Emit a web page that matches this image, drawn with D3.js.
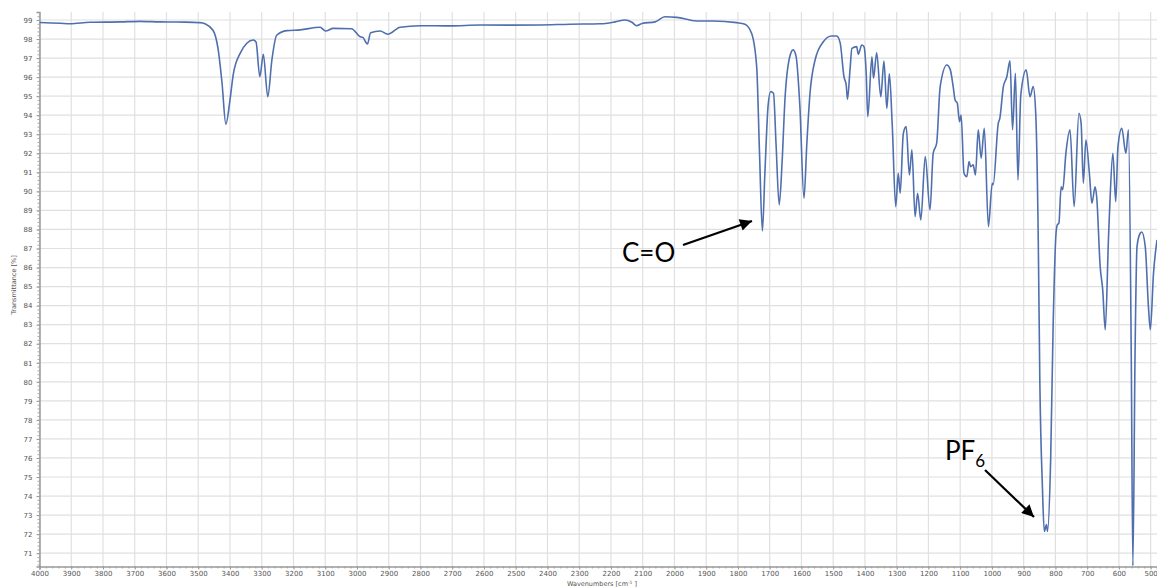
<!DOCTYPE html>
<html>
<head>
<meta charset="utf-8">
<script src="https://cdn.jsdelivr.net/npm/d3@7"></script>
<style>
  body { margin: 0; background: #fff; }
  svg { display: block; }
  .tick text { font-family: "DejaVu Sans", sans-serif; font-size: 7px; fill: #555; }
  .note { font-family: Lato, "Open Sans", sans-serif; fill: #000; }
</style>
</head>
<body>
<svg id="chart" width="1157" height="587"></svg>
<script>
// --- datos del espectro IR (número de onda cm-1, transmitancia %) ---
const wavenumbers = [
  4000, 3935, 3904, 3841, 3746, 3683, 3620, 3542, 3494, 3479, 3453, 3437, 3425, 3413, 3400, 3390,
  3368, 3347, 3327, 3318, 3306, 3295, 3281, 3268, 3253, 3221, 3179, 3116, 3099, 3075, 3017, 2990,
  2982, 2967, 2957, 2927, 2903, 2864, 2801, 2707, 2612, 2518, 2423, 2329, 2234, 2187, 2156, 2134,
  2119, 2102, 2061, 2030, 1993, 1930, 1878, 1804, 1778, 1757, 1741, 1732, 1723, 1715, 1705, 1697,
  1688, 1680, 1670, 1661, 1652, 1636, 1626, 1617, 1605, 1592, 1583, 1573, 1557, 1531, 1505, 1489,
  1478, 1466, 1459, 1455, 1447, 1441, 1426, 1421, 1410, 1403, 1396, 1391, 1378, 1373, 1363, 1350,
  1340, 1331, 1323, 1314, 1303, 1295, 1289, 1279, 1270, 1260, 1252, 1242, 1234, 1224, 1210, 1195,
  1185, 1174, 1163, 1142, 1131, 1122, 1116, 1109, 1102, 1097, 1088, 1079, 1072, 1067, 1059, 1052,
  1043, 1034, 1024, 1011, 999, 996, 980, 975, 964, 953, 943, 935, 926, 918, 909, 892,
  880, 870, 862, 854, 849, 841, 835, 828, 825, 815, 807, 798, 794, 789, 782, 777,
  767, 754, 741, 726, 719, 712, 704, 693, 685, 675, 670, 659, 651, 643, 633, 628,
  619, 610, 603, 591, 578, 570, 561, 556, 549, 543, 533, 528, 517, 507, 501, 491, 480
];
const transmittance = [
  98.87, 98.83, 98.8, 98.88, 98.9, 98.93, 98.9, 98.89, 98.86, 98.8, 98.45, 97.43, 95.68, 93.53, 94.8, 96.11,
  97.25, 97.78, 97.95, 97.85, 96.02, 97.2, 94.97, 96.9, 98.2, 98.44, 98.48, 98.62, 98.42, 98.56, 98.54, 98.12,
  98.09, 97.74, 98.33, 98.42, 98.25, 98.62, 98.7, 98.69, 98.74, 98.73, 98.74, 98.78, 98.8, 98.9, 99.0, 98.88,
  98.7, 98.82, 98.9, 99.17, 99.14, 98.95, 98.95, 98.86, 98.78, 98.3, 96.55, 92.0, 87.92, 91.0, 94.5, 95.24,
  95.15, 92.5, 89.29, 91.5, 94.8, 97.12, 97.43, 97.1, 94.5, 89.64, 92.5, 95.15, 96.9, 97.86, 98.16, 98.16,
  97.8, 96.02, 95.59, 94.84, 96.38, 97.51, 97.6, 97.2, 97.69, 97.6, 96.2, 93.92, 97.07, 95.94, 97.28, 94.97,
  96.85, 94.36, 96.17, 93.5, 89.2, 90.95, 89.9, 93.05, 93.4, 90.86, 92.18, 88.67, 89.9, 88.5, 91.83, 89.03,
  92.0, 92.53, 95.5, 96.64, 96.38, 95.5, 94.8, 94.63, 93.66, 94.01, 90.95, 90.77, 91.56, 91.3, 91.39, 90.86,
  93.23, 91.74, 93.31, 88.15, 90.43, 90.35, 93.57, 93.84, 95.5, 96.02, 96.86, 93.23, 96.2, 90.6, 95.06, 96.38,
  94.97, 95.5, 94.1, 87.45, 79.93, 74.5, 72.14, 72.5, 72.14, 75.9, 83.08, 87.8, 88.24, 88.33, 90.24, 90.08,
  92.0, 93.23, 89.2, 94.1, 93.57, 90.43, 92.7, 90.95, 89.38, 90.24, 89.72, 86.05, 84.83, 82.73, 87.45, 89.55,
  92.0, 89.46, 92.35, 93.31, 92.0, 93.23, 81.2, 70.34, 81.68, 87.1, 87.8, 87.87, 87.1, 83.95, 82.73, 85.7, 87.45
];
const xTicks = d3.range(4000, 499, -100);   // 4000 ... 500
const yTicks = d3.range(71, 100, 1);        // 71 ... 99
const annotations = [
  { label: "C=O", sub: "", tx: 622, ty: 262, from: [683, 245], to: [752, 221] },
  { label: "PF", sub: "6", tx: 945, ty: 460, from: [985, 470], to: [1034, 517] }
];

const spectrum = wavenumbers.map((w, i) => ({ w: w, t: transmittance[i] }));

// --- área del gráfico ---
const plotLeft = 39.5, plotRight = 1157, plotTop = 12, plotBottom = 566.5;
const svg = d3.select("#chart");

const x = d3.scaleLinear().domain([4000, 480]).range([plotLeft, plotRight]);
const y = d3.scaleLinear().domain([70.3, 99.42]).range([plotBottom, plotTop]);

const defs = svg.append("defs");
defs.append("clipPath").attr("id", "plot-clip")
  .append("rect").attr("x", plotLeft).attr("y", plotTop - 2)
  .attr("width", plotRight - plotLeft).attr("height", plotBottom - plotTop + 2);

defs.append("marker")
  .attr("id", "arrow").attr("viewBox", "0 0 10 10")
  .attr("refX", 10).attr("refY", 5)
  .attr("markerWidth", 15).attr("markerHeight", 12)
  .attr("markerUnits", "userSpaceOnUse")
  .attr("orient", "auto")
  .append("path").attr("d", "M0,0L10,5L0,10z").attr("fill", "#000");

// rejilla
const grid = svg.append("g").attr("stroke", "#e0e0e0").attr("stroke-width", 1.2);
grid.selectAll(".gx").data(xTicks).join("line")
  .attr("x1", d => x(d)).attr("x2", d => x(d))
  .attr("y1", plotTop).attr("y2", plotBottom);
grid.selectAll(".gy").data(yTicks).join("line")
  .attr("x1", plotLeft).attr("x2", plotRight)
  .attr("y1", d => y(d)).attr("y2", d => y(d));

// ejes: marcas menores y principales
const xMinor = d3.range(4000, 480, -20);
const yMinor = d3.range(70.4, 99.4, 0.2);

svg.append("g").attr("transform", `translate(0,${plotBottom})`)
  .call(d3.axisBottom(x).tickValues(xMinor).tickSize(2).tickFormat(""))
  .call(g => g.select(".domain").remove())
  .selectAll("line").attr("stroke", "#aaa");
svg.append("g").attr("transform", `translate(${plotLeft},0)`)
  .call(d3.axisLeft(y).tickValues(yMinor).tickSize(2).tickFormat(""))
  .call(g => g.select(".domain").remove())
  .selectAll("line").attr("stroke", "#aaa");

const xAxis = svg.append("g").attr("transform", `translate(0,${plotBottom})`)
  .call(d3.axisBottom(x).tickValues(xTicks).tickSize(3).tickPadding(2).tickFormat(d3.format("d")));
xAxis.select(".domain").attr("stroke", "#999").attr("stroke-width", 1.5);
xAxis.selectAll(".tick line").attr("stroke", "#999");

const yAxis = svg.append("g").attr("transform", `translate(${plotLeft},0)`)
  .call(d3.axisLeft(y).tickValues(yTicks).tickSize(3).tickPadding(4).tickFormat(d3.format("d")));
yAxis.select(".domain").attr("stroke", "#999").attr("stroke-width", 1.5);
yAxis.selectAll(".tick line").attr("stroke", "#999");

// títulos de ejes
svg.append("text")
  .attr("x", 602).attr("y", 586)
  .attr("text-anchor", "middle")
  .style("font-family", "DejaVu Sans, sans-serif").style("font-size", "6.5px").style("fill", "#555")
  .html('Wavenumbers [cm<tspan dy="-2.5" font-size="4.5px">-1</tspan><tspan dy="2.5"> ]</tspan>');
svg.append("text")
  .attr("transform", "translate(16,285) rotate(-90)")
  .attr("text-anchor", "middle")
  .style("font-family", "DejaVu Sans, sans-serif").style("font-size", "6.5px").style("fill", "#555")
  .text("Transmittance [%]");

// espectro
const line = d3.line()
  .x(d => x(d.w))
  .y(d => y(d.t))
  .curve(d3.curveMonotoneX);

svg.append("path")
  .datum(spectrum)
  .attr("clip-path", "url(#plot-clip)")
  .attr("fill", "none")
  .attr("stroke", "#4f6fae")
  .attr("stroke-width", 1.6)
  .attr("stroke-linejoin", "round")
  .attr("d", line);

// anotaciones
annotations.forEach(a => {
  svg.append("line")
    .attr("x1", a.from[0]).attr("y1", a.from[1])
    .attr("x2", a.to[0]).attr("y2", a.to[1])
    .attr("stroke", "#000").attr("stroke-width", 2.2)
    .attr("marker-end", "url(#arrow)");
  const t = svg.append("text").attr("class", "note")
    .attr("x", a.tx).attr("y", a.ty)
    .style("font-size", "26px")
    .text(a.label);
  if (a.sub) {
    t.append("tspan").attr("dy", 7).style("font-size", "17px").text(a.sub);
  }
});
</script>
</body>
</html>
